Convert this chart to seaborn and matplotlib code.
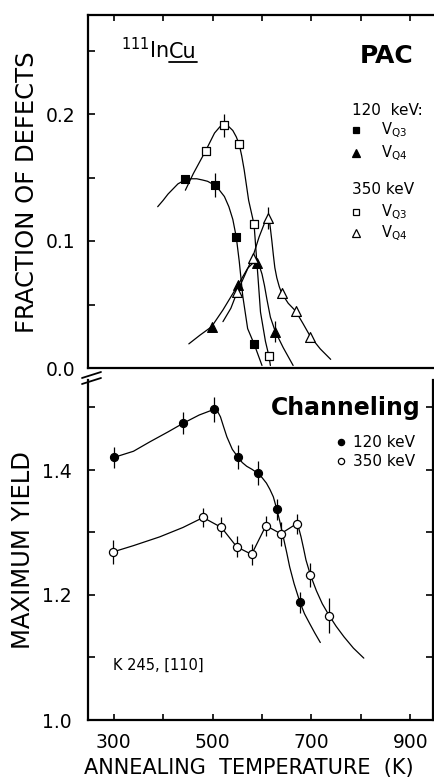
import numpy as np
import pandas as pd
import matplotlib
matplotlib.use("Agg")
import matplotlib.pyplot as plt
from matplotlib.lines import Line2D
import seaborn as sns

# ---- PAC panel: fraction of defects vs annealing temperature (K) ----
# 120 keV, V_Q3 (filled squares)
t_fsq = [444, 504, 548, 584]
f_fsq = [0.149, 0.144, 0.103, 0.019]
e_fsq = [0, 0.0095, 0, 0]
# 350 keV, V_Q3 (open squares)
t_osq = [486, 524, 554, 584, 614]
f_osq = [0.171, 0.191, 0.176, 0.113, 0.0095]
e_osq = [0, 0.009, 0, 0, 0]
# 120 keV, V_Q4 (filled triangles)
t_ftri = [498, 551, 589, 627]
f_ftri = [0.0325, 0.065, 0.083, 0.0286]
e_ftri = [0, 0, 0, 0.0085]
# 350 keV, V_Q4 (open triangles)
t_otri = [550, 581, 612, 640, 668, 698]
f_otri = [0.060, 0.087, 0.118, 0.0588, 0.0449, 0.0247]
e_otri = [0, 0, 0.0085, 0, 0, 0]

# hand drawn guide curves
ct_fsq = [389, 400, 410, 420, 430, 444, 456, 468, 480, 490, 504, 514, 524, 533, 541, 548, 554, 561, 571, 584, 600]
cv_fsq = [0.127, 0.132, 0.137, 0.141, 0.145, 0.148, 0.149, 0.149, 0.148, 0.147, 0.144, 0.140, 0.135, 0.127,
          0.117, 0.103, 0.084, 0.057, 0.031, 0.019, 0.002]
ct_osq = [445, 461, 486, 504, 515, 524, 533, 541, 548, 554, 559, 564, 573, 584, 587, 592, 597, 607, 614, 617]
cv_osq = [0.140, 0.153, 0.171, 0.185, 0.190, 0.191, 0.190, 0.187, 0.182, 0.176, 0.167, 0.156, 0.132, 0.113,
          0.097, 0.071, 0.044, 0.021, 0.0095, 0.002]
ct_ftri = [452, 475, 498, 521, 551, 571, 580, 589, 595, 600, 605, 610, 617, 627, 643, 663]
cv_ftri = [0.019, 0.026, 0.0325, 0.0457, 0.065, 0.0785, 0.082, 0.083, 0.080, 0.074, 0.065, 0.054, 0.040,
           0.0286, 0.016, 0.002]
ct_otri = [521, 537, 550, 564, 581, 594, 606, 612, 615, 617, 620, 623, 626, 630, 635, 640, 653, 668, 683,
           698, 718, 739]
cv_otri = [0.0365, 0.047, 0.060, 0.072, 0.087, 0.103, 0.115, 0.118, 0.116, 0.110, 0.100, 0.089, 0.079, 0.071,
           0.064, 0.0588, 0.051, 0.0449, 0.035, 0.0247, 0.015, 0.0068]

# ---- Channeling panel: maximum yield ----
t_c120 = [300, 441, 503, 551, 591, 630, 677]
y_c120 = [1.420, 1.475, 1.497, 1.421, 1.395, 1.337, 1.188]
e_c120 = [0.017, 0.018, 0.020, 0.019, 0.019, 0.017, 0.017]
t_c350 = [299, 481, 518, 549, 579, 608, 638, 670, 698, 736]
y_c350 = [1.269, 1.324, 1.308, 1.277, 1.265, 1.311, 1.298, 1.314, 1.232, 1.167]
e_c350 = [0.019, 0.015, 0.016, 0.017, 0.017, 0.016, 0.019, 0.016, 0.019, 0.028]

ct_c120 = [300, 340, 373, 410, 441, 473, 503, 510, 516, 522, 529, 540, 551, 560, 569, 580, 591, 600, 609,
           616, 623, 630, 636, 643, 650, 656, 665, 677, 686, 696, 707, 718]
cv_c120 = [1.420, 1.430, 1.445, 1.461, 1.475, 1.488, 1.497, 1.494, 1.485, 1.470, 1.453, 1.433, 1.421, 1.412,
           1.406, 1.401, 1.395, 1.388, 1.379, 1.369, 1.357, 1.337, 1.318, 1.293, 1.268, 1.245, 1.218, 1.188,
           1.170, 1.155, 1.139, 1.124]
ct_c350 = [299, 340, 393, 440, 481, 518, 549, 579, 608, 638, 670, 674, 679, 684, 689, 698, 710, 722, 736,
           750, 766, 785, 806]
cv_c350 = [1.269, 1.279, 1.293, 1.308, 1.324, 1.308, 1.277, 1.265, 1.311, 1.298, 1.314, 1.308, 1.293, 1.275,
           1.256, 1.232, 1.207, 1.186, 1.167, 1.150, 1.133, 1.115, 1.099]

sns.set_style("ticks", rc={"axes.edgecolor": "black", "xtick.color": "black",
                           "ytick.color": "black", "text.color": "black"})
plt.rcParams["font.family"] = ["DejaVu Sans"]
plt.rcParams["mathtext.default"] = "regular"

W, H = 434, 783
fig = plt.figure(figsize=(W / 100, H / 100), dpi=100)


def fx(x):
    return x / W


def fy(y):
    return 1 - y / H


ax1 = fig.add_axes([fx(88), fy(368), (433 - 88) / W, (368 - 15) / H])
ax2 = fig.add_axes([fx(88), fy(720), (433 - 88) / W, (720 - 380) / H])

lw_curve = 0.9
# top panel curves
for ct, cv in [(ct_fsq, cv_fsq), (ct_osq, cv_osq), (ct_ftri, cv_ftri), (ct_otri, cv_otri)]:
    sns.lineplot(x=ct, y=cv, sort=False, estimator=None, color="black", lw=lw_curve, ax=ax1)

for t, v, e in [(t_fsq, f_fsq, e_fsq), (t_osq, f_osq, e_osq), (t_ftri, f_ftri, e_ftri), (t_otri, f_otri, e_otri)]:
    ax1.errorbar(t, v, yerr=e, fmt="none", ecolor="black", elinewidth=0.9, capsize=0, zorder=2)

sns.scatterplot(x=t_fsq, y=f_fsq, marker="s", s=36, facecolor="black", edgecolor="black", linewidth=0.8, ax=ax1, zorder=3)
sns.scatterplot(x=t_osq, y=f_osq, marker="s", s=34, facecolor="white", edgecolor="black", linewidth=0.9, ax=ax1, zorder=3)
sns.scatterplot(x=t_ftri, y=f_ftri, marker="^", s=50, facecolor="black", edgecolor="black", linewidth=0.8, ax=ax1, zorder=3)
sns.scatterplot(x=t_otri, y=f_otri, marker="^", s=50, facecolor="white", edgecolor="black", linewidth=0.9, ax=ax1, zorder=3)

# bottom panel curves
sns.lineplot(x=ct_c120, y=cv_c120, sort=False, estimator=None, color="black", lw=lw_curve, ax=ax2)
sns.lineplot(x=ct_c350, y=cv_c350, sort=False, estimator=None, color="black", lw=lw_curve, ax=ax2)
ax2.errorbar(t_c120, y_c120, yerr=e_c120, fmt="none", ecolor="black", elinewidth=0.9, capsize=0, zorder=2)
ax2.errorbar(t_c350, y_c350, yerr=e_c350, fmt="none", ecolor="black", elinewidth=0.9, capsize=0, zorder=2)
sns.scatterplot(x=t_c120, y=y_c120, marker="o", s=34, facecolor="black", edgecolor="black", linewidth=0.8, ax=ax2, zorder=3)
sns.scatterplot(x=t_c350, y=y_c350, marker="o", s=34, facecolor="white", edgecolor="black", linewidth=0.9, ax=ax2, zorder=3)

# axes setup
for ax in (ax1, ax2):
    ax.set_xlim(248, 946)
    ax.set_xlabel("")
    ax.set_ylabel("")
    for sp in ax.spines.values():
        sp.set_linewidth(1.6)

ax1.set_ylim(0, (368 - 15) / 1270)
ax1.spines["right"].set_visible(False)
ax1.set_xticks(range(300, 1000, 100))
ax1.set_yticks([0.0, 0.1, 0.2])
ax1.set_yticks([0.05, 0.15, 0.25], minor=True)
ax1.set_yticklabels(["0.0", "0.1", "0.2"])
ax1.tick_params(axis="x", which="both", direction="in", length=4, width=1.2,
                top=True, bottom=False, labelbottom=False, labeltop=False)
ax1.tick_params(axis="y", which="both", direction="in", length=5, width=1.2,
                left=True, right=False, labelsize=13.5, pad=9)

ax2.set_ylim(1.0, 1.0 + (720 - 380) / 625)
ax2.spines["top"].set_visible(False)
ax2.set_xticks([300, 500, 700, 900])
ax2.set_xticks([400, 600, 800], minor=True)
ax2.set_xticklabels(["300", "500", "700", "900"])
ax2.set_yticks([1.0, 1.2, 1.4])
ax2.set_yticks([1.1, 1.3, 1.5], minor=True)
ax2.set_yticklabels(["1.0", "1.2", "1.4"])
ax2.tick_params(axis="x", which="both", direction="in", length=4, width=1.2,
                top=False, bottom=True, labelsize=13.5, pad=9)
ax2.tick_params(axis="y", which="both", direction="in", length=5, width=1.2,
                left=True, right=True, labelsize=13.5, pad=12)

# axis break marks
for dy in (0, 6):
    fig.add_artist(Line2D([fx(82), fx(101)], [fy(378 + dy), fy(372 + dy)], color="black", lw=1.3))

# axis titles
fig.text(fx(27), fy(192), "FRACTION OF DEFECTS", rotation=90, ha="center", va="center", fontsize=17.5)
fig.text(fx(23), fy(550), "MAXIMUM YIELD", rotation=90, ha="center", va="center", fontsize=17.5)
fig.text(fx(249), fy(768), "ANNEALING  TEMPERATURE  (K)", ha="center", va="center", fontsize=15)

# panel annotations
t_in = fig.text(fx(121), fy(58), r"$^{111}$In", fontsize=15, va="baseline", ha="left")
fig.canvas.draw()
r = fig.canvas.get_renderer()
bb = t_in.get_window_extent(r)
t_cu = fig.text(bb.x1 / W, fy(58), "Cu", fontsize=15, va="baseline", ha="left")
bb2 = t_cu.get_window_extent(r)
fig.add_artist(Line2D([bb2.x0 / W, bb2.x1 / W], [fy(61.5), fy(61.5)], color="black", lw=1.3))

fig.text(fx(413), fy(63), "PAC", fontsize=18, fontweight="bold", ha="right", va="baseline")
fig.text(fx(352), fy(115), "120  keV:", fontsize=11, va="baseline")
fig.text(fx(352), fy(194), "350 keV", fontsize=11, va="baseline")
leg_top = [("s", "black", 130, "V$_{Q3}$"), ("^", "black", 153, "V$_{Q4}$"),
           ("s", "white", 212, "V$_{Q3}$"), ("^", "white", 233, "V$_{Q4}$")]
for mk, fc, yy, lab in leg_top:
    fig.add_artist(Line2D([fx(356)], [fy(yy)], marker=mk, ms=5 if mk == "s" else 6,
                          mfc=fc, mec="black", mew=0.9, ls="none"))
    fig.text(fx(381), fy(yy + 4), lab, fontsize=10.5, va="baseline")

fig.text(fx(421), fy(415), "Channeling", fontsize=17, fontweight="bold", ha="right", va="baseline")
for fc, yy, lab in [("black", 442, "120 keV"), ("white", 461, "350 keV")]:
    fig.add_artist(Line2D([fx(341)], [fy(yy)], marker="o", ms=4.5, mfc=fc, mec="black", mew=0.9, ls="none"))
    fig.text(fx(353), fy(yy + 5), lab, fontsize=11, va="baseline")

fig.text(fx(113), fy(670), "K 245, [110]", fontsize=10.5, va="baseline")

fig.savefig("out.png", dpi=100)
